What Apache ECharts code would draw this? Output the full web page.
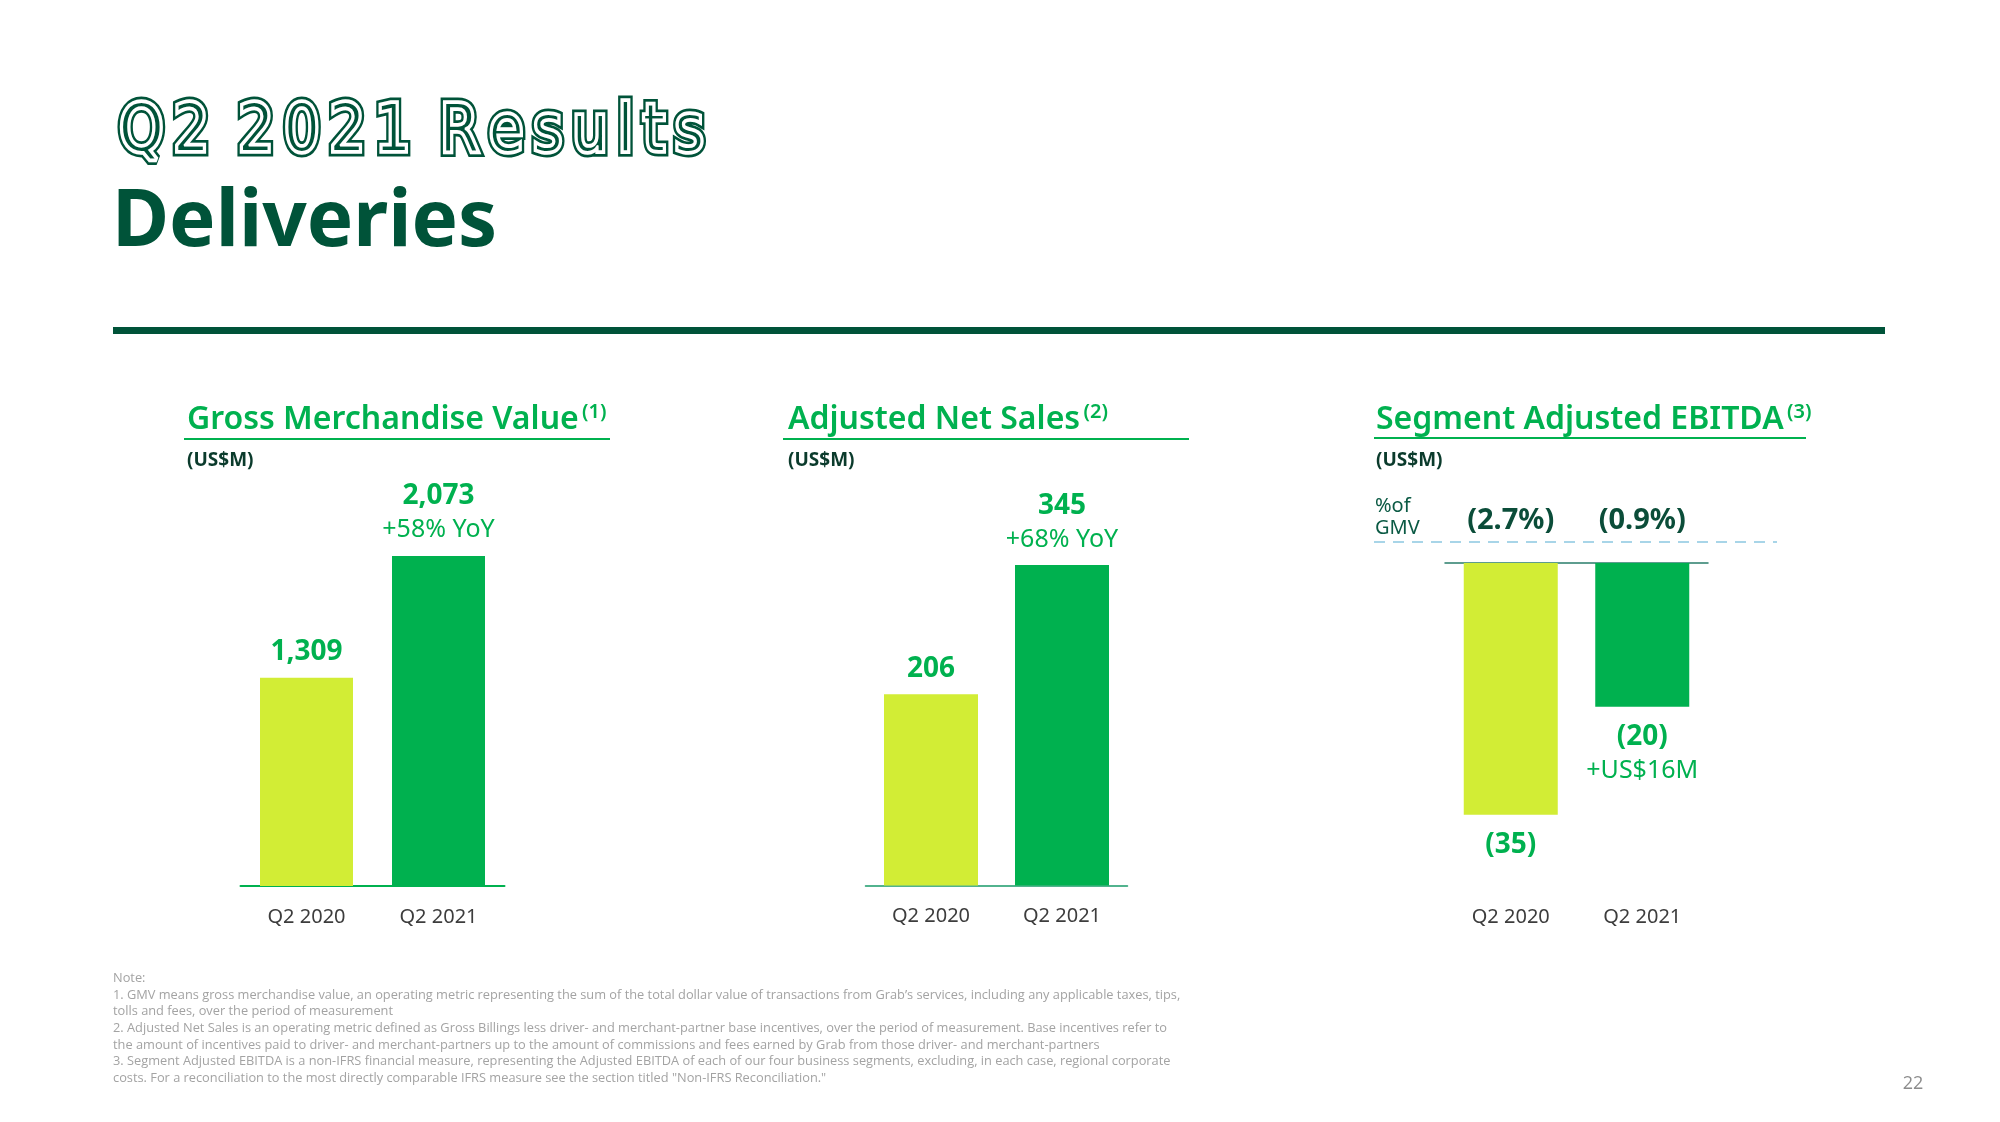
<!DOCTYPE html>
<html>
<head>
<meta charset="utf-8">
<script src="https://cdn.jsdelivr.net/npm/echarts@6/dist/echarts.min.js"></script>
<style>
html,body{margin:0;padding:0;background:#fff;}
#main{width:2000px;height:1122px;}
</style>
</head>
<body>
<div id="main"></div>
<script>
// ---------- data ----------
const categories = ['Q2 2020', 'Q2 2021'];
const gmvValues = [1309, 2073];
const gmvYoY = ['', '+58% YoY'];
const ansValues = [206, 345];
const ansYoY = ['', '+68% YoY'];
const ebitdaValues = [-35, -20];
const ebitdaChange = ['', '+US$16M'];
const ebitdaPctGmv = ['(2.7%)', '(0.9%)'];
const panelTitles = ['Gross Merchandise Value', 'Adjusted Net Sales', 'Segment Adjusted EBITDA'];
const panelNotes = ['(1)', '(2)', '(3)'];
const unitLabel = '(US$M)';
const pageTitle = 'Q2 2021 Results';
const pageSubtitle = 'Deliveries';
const noteLines = [
  'Note:',
  '1. GMV means gross merchandise value, an operating metric representing the sum of the total dollar value of transactions from Grab\u2019s services, including any applicable taxes, tips,',
  'tolls and fees, over the period of measurement',
  '2. Adjusted Net Sales is an operating metric defined as Gross Billings less driver- and merchant-partner base incentives, over the period of measurement. Base incentives refer to',
  'the amount of incentives paid to driver- and merchant-partners up to the amount of commissions and fees earned by Grab from those driver- and merchant-partners',
  '3. Segment Adjusted EBITDA is a non-IFRS financial measure, representing the Adjusted EBITDA of each of our four business segments, excluding, in each case, regional corporate',
  'costs. For a reconciliation to the most directly comparable IFRS measure see the section titled "Non-IFRS Reconciliation."'
];
const pageNumber = '22';

// ---------- style ----------
const DARK = '#005339';
const GREEN = '#00b14f';
const LIME = '#d2ed35';
const barColors = [LIME, GREEN];
const FONT = '"Noto Sans", sans-serif';

const chart = echarts.init(document.getElementById('main'));

const fmtNum = v => v.toLocaleString('en-US');
const fmtNeg = v => '(' + Math.abs(v) + ')';

const valueRich = {
  v: {fontFamily: FONT, fontSize: 28, fontWeight: 'bold', color: GREEN, lineHeight: 34},
  y: {fontFamily: FONT, fontSize: 25, color: GREEN, lineHeight: 34}
};

function barData(values) {
  return values.map((v, i) => ({value: v, itemStyle: {color: barColors[i]}}));
}

const catAxisLabel = {color: '#3d3d3d', fontSize: 20, fontFamily: FONT};

const panelX = [187, 788, 1376];
const underline = [[184, 610, 439], [783, 1189, 439], [1374, 1806, 438]];

const graphics = [];

// ---- page title with an inline (double-line) letter effect, laid out letter by letter ----
(function () {
  const size = 66, sx = 0.86, baseY = 134;
  const font = size + 'px "DejaVu Sans", sans-serif';
  const ctx = document.createElement('canvas').getContext('2d');
  ctx.font = font;
  const chars = pageTitle.split('');
  const widths = chars.map(c => ctx.measureText(c).width * sx * (c === ' ' ? 0.55 : 1));
  const left = 119, right = 704;
  const total = widths.reduce((a, b) => a + b, 0);
  const gap = (right - left - total) / (chars.length - 1);
  let cx = left;
  chars.forEach((c, i) => {
    if (c !== ' ') {
      const base = {x: 0, y: 0, text: c, font: font, verticalAlign: 'middle', lineJoin: 'round'};
      graphics.push({type: 'group', x: cx, y: baseY, scaleX: sx, children: [
        {type: 'text', z: 10, style: Object.assign({}, base, {fill: 'transparent', stroke: DARK, lineWidth: 11})},
        {type: 'text', z: 11, style: Object.assign({}, base, {fill: 'transparent', stroke: '#ffffff', lineWidth: 5.5})},
        {type: 'text', z: 12, style: Object.assign({}, base, {fill: DARK})},
        {type: 'text', z: 13, style: Object.assign({}, base, {fill: 'transparent', stroke: '#ffffff', lineWidth: 2})}
      ]});
    }
    cx += widths[i] + gap;
  });
})();

graphics.push({type: 'text', z: 10, style: {x: 112, y: 224, text: pageSubtitle, font: 'bold 78px ' + FONT, fill: DARK, verticalAlign: 'middle'}});
// thick rule
graphics.push({type: 'rect', z: 5, shape: {x: 113, y: 327, width: 1772, height: 7}, style: {fill: DARK}});
// panel titles, underlines, units
for (let i = 0; i < 3; i++) {
  graphics.push({type: 'text', z: 10, style: {
    x: panelX[i], y: 420, text: '{t|' + panelTitles[i] + '} {s|' + panelNotes[i] + '}',
    verticalAlign: 'middle',
    rich: {
      t: {fontFamily: FONT, fontSize: 32, fontWeight: 600, fill: GREEN, color: GREEN, lineHeight: 36},
      s: {fontFamily: FONT, fontSize: 20, fontWeight: 600, fill: GREEN, color: GREEN, verticalAlign: 'top', lineHeight: 22}
    }
  }});
  const u = underline[i];
  graphics.push({type: 'line', z: 10, shape: {x1: u[0], y1: u[2], x2: u[1], y2: u[2]}, style: {stroke: GREEN, lineWidth: 2}});
  graphics.push({type: 'text', z: 10, style: {x: panelX[i], y: 461, text: unitLabel, font: 'bold 19px ' + FONT, fill: '#0b3b2c', verticalAlign: 'middle'}});
}
// % of GMV label and dashed line
graphics.push({type: 'text', z: 10, style: {x: 1375, y: 517, text: '%of\nGMV', font: '20px ' + FONT, fill: '#0b5a44', lineHeight: 22, verticalAlign: 'middle'}});
graphics.push({type: 'line', z: 10, shape: {x1: 1374, y1: 542, x2: 1777, y2: 542}, style: {stroke: '#a8d5e8', lineWidth: 2, lineDash: [11, 8]}});
// notes
graphics.push({type: 'text', z: 10, style: {x: 113, y: 970, text: noteLines.join('\n'), font: '12.8px "Open Sans", sans-serif', fill: '#a3a3a3', lineHeight: 16.7, verticalAlign: 'top'}});
// page number
graphics.push({type: 'text', z: 10, style: {x: 1913, y: 1084, text: pageNumber, font: '18px "Open Sans", sans-serif', fill: '#8c8c8c', align: 'center', verticalAlign: 'middle'}});

const option = {
  animation: false,
  backgroundColor: '#ffffff',
  grid: [
    {left: 240.5, width: 264, top: 504, height: 382},
    {left: 865.5, width: 262, top: 514, height: 371.5},
    {left: 1445, width: 263, top: 563, height: 287.6}
  ],
  xAxis: [
    {type: 'category', gridIndex: 0, data: categories,
     axisLine: {lineStyle: {color: GREEN, width: 2}}, axisTick: {show: false},
     axisLabel: Object.assign({margin: 21}, catAxisLabel)},
    {type: 'category', gridIndex: 1, data: categories,
     axisLine: {lineStyle: {color: '#1a9a6a', width: 1.5}}, axisTick: {show: false},
     axisLabel: Object.assign({margin: 21}, catAxisLabel)},
    {type: 'category', gridIndex: 2, data: categories, position: 'bottom',
     axisLine: {show: false, onZero: false}, axisTick: {show: false},
     axisLabel: Object.assign({margin: 57}, catAxisLabel)},
    {type: 'category', gridIndex: 2, data: ebitdaPctGmv, position: 'top',
     axisLine: {show: true, onZero: false, lineStyle: {color: '#2a7d6b', width: 1.5}}, axisTick: {show: false},
     axisLabel: {margin: 28, color: '#0b4d39', fontSize: 29, fontWeight: 'bold', fontFamily: FONT}}
  ],
  yAxis: [
    {type: 'value', gridIndex: 0, min: 0, max: 2400, show: false},
    {type: 'value', gridIndex: 1, min: 0, max: 400, show: false},
    {type: 'value', gridIndex: 2, min: -40, max: 0, show: false}
  ],
  series: [
    {type: 'bar', xAxisIndex: 0, yAxisIndex: 0, barWidth: 93, data: barData(gmvValues),
     label: {show: true, position: 'top', distance: 9, rich: valueRich,
       formatter: p => '{v|' + fmtNum(p.value) + '}' + (gmvYoY[p.dataIndex] ? '\n{y|' + gmvYoY[p.dataIndex] + '}' : '')}},
    {type: 'bar', xAxisIndex: 1, yAxisIndex: 1, barWidth: 94, data: barData(ansValues),
     label: {show: true, position: 'top', distance: 8, rich: valueRich,
       formatter: p => '{v|' + fmtNum(p.value) + '}' + (ansYoY[p.dataIndex] ? '\n{y|' + ansYoY[p.dataIndex] + '}' : '')}},
    {type: 'bar', xAxisIndex: 2, yAxisIndex: 2, barWidth: 94, data: barData(ebitdaValues),
     label: {show: true, position: 'bottom', distance: 13, rich: valueRich,
       formatter: p => '{v|' + fmtNeg(p.value) + '}' + (ebitdaChange[p.dataIndex] ? '\n{y|' + ebitdaChange[p.dataIndex] + '}' : '')}}
  ],
  graphic: graphics
};
chart.setOption(option);
</script>
</body>
</html>
